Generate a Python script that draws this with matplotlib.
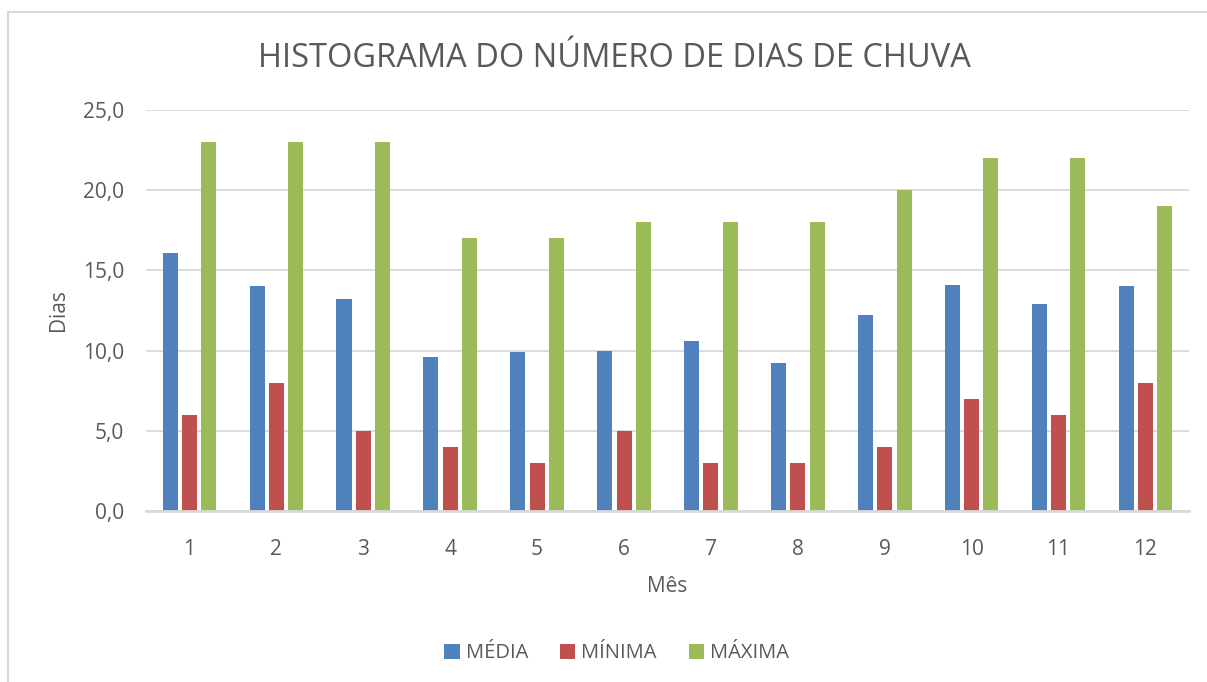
import numpy as np
import matplotlib.pyplot as plt
from matplotlib.patches import Rectangle

plt.rcParams['font.family'] = ['Open Sans', 'DejaVu Sans']

meses = [1, 2, 3, 4, 5, 6, 7, 8, 9, 10, 11, 12]
media = [16.1, 14.0, 13.2, 9.6, 9.9, 10.0, 10.6, 9.2, 12.2, 14.1, 12.9, 14.0]
minima = [6, 8, 5, 4, 3, 5, 3, 3, 4, 7, 6, 8]
maxima = [23, 23, 23, 17, 17, 18, 18, 18, 20, 22, 22, 19]
yticks = [0, 5, 10, 15, 20, 25]

txt = "#595959"
grid = "#D9D9D9"

fig = plt.figure(figsize=(12.07, 6.82), dpi=100)
ax = fig.add_axes([0.121, 0.2507, 0.864, 0.588])

x = np.arange(len(meses))
w = 0.173
d = 0.222
ax.bar(x - d, media, w, color="#4F81BD", label="MÉDIA", zorder=3)
ax.bar(x, minima, w, color="#C0504D", label="MÍNIMA", zorder=3)
ax.bar(x + d, maxima, w, color="#9BBB59", label="MÁXIMA", zorder=3)

ax.set_xlim(-0.5, len(meses) - 0.5)
ax.set_ylim(0, 25)
ax.set_yticks(yticks)
ax.set_yticklabels([f"{v:.1f}".replace(".", ",") for v in yticks])
ax.set_xticks(x)
ax.set_xticklabels([str(m) for m in meses])
ax.yaxis.grid(True, color=grid, linewidth=1.3, zorder=0)
ax.tick_params(length=0, labelsize=15, colors=txt)
ax.tick_params(axis="x", pad=20)
ax.tick_params(axis="y", pad=16)
for s in ["top", "right", "left"]:
    ax.spines[s].set_visible(False)
ax.spines["bottom"].set_color(grid)
ax.spines["bottom"].set_linewidth(2)
ax.spines["bottom"].set_zorder(4)

ax.set_xlabel("Mês", fontsize=15, color=txt, labelpad=12)
ax.set_ylabel("Dias", fontsize=15, color=txt, labelpad=10)
fig.text(0.509, 0.914, "HISTOGRAMA DO NÚMERO DE DIAS DE CHUVA", ha="center", va="center",
         fontsize=23.5, color=txt)

fig.legend(loc="center", bbox_to_anchor=(0.511, 0.042), ncol=3, frameon=False,
           fontsize=14.5, labelcolor=txt, handlelength=0.75, handleheight=0.75,
           handletextpad=0.3, columnspacing=1.6)

fig.patches.append(Rectangle((0.0066, -0.1), 1.2, 1.0824, transform=fig.transFigure,
                             fill=False, edgecolor=grid, linewidth=1.5))

fig.savefig("out.png", dpi=100)
